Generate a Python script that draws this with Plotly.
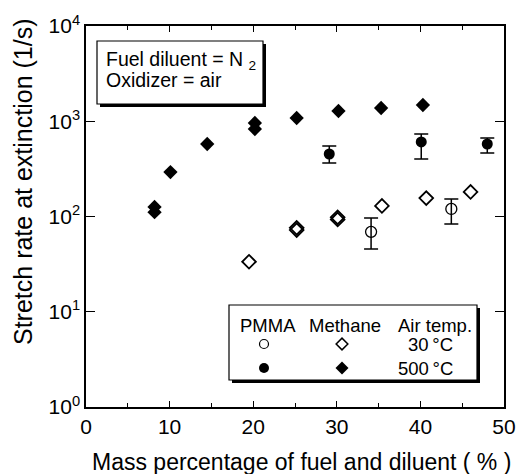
import plotly.graph_objects as go

# ---------------- data ----------------
methane_500_x = [8.2, 8.2, 10.1, 14.5, 20.2, 20.2, 25.2, 30.2, 35.3, 40.3]
methane_500_y = [126, 111, 293, 577, 959, 829, 1082, 1281, 1378, 1482]

methane_30_x = [19.5, 25.2, 25.2, 30.1, 30.1, 35.4, 40.7, 46.0]
methane_30_y = [33.5, 72, 76, 93, 98, 129, 156, 181]

pmma_500_x = [29.1, 40.1, 48.0]
pmma_500_y = [453, 606, 577]
pmma_500_hi = [550, 735, 667]
pmma_500_lo = [365, 402, 464]

pmma_30_x = [34.1, 43.7]
pmma_30_y = [69, 120]
pmma_30_hi = [96.5, 153]
pmma_30_lo = [45.6, 83.4]

x_ticks = [0, 10, 20, 30, 40, 50]
y_tickvals = [1, 10, 100, 1000, 10000]
y_ticktext = ["10<sup>0</sup>", "10<sup>1</sup>", "10<sup>2</sup>", "10<sup>3</sup>", "10<sup>4</sup>"]

FONT = "Liberation Sans, Arial, sans-serif"
# window is 532x474; the page body adds an 8px offset
OFF = 8
W, H = 532 - OFF, 474 - OFF
PL, PR, PT, PB = 86, 504, 26, 407          # plot area in window pixels
PW, PH = PR - PL, PB - PT


def px(x):
    return (x - PL) / PW


def py(y):
    return (PB - y) / PH


fig = go.Figure()

fig.add_trace(go.Scatter(
    x=methane_500_x, y=methane_500_y, mode="markers",
    marker=dict(symbol="diamond", size=11, color="black", line=dict(width=0)),
    showlegend=False))
fig.add_trace(go.Scatter(
    x=methane_30_x, y=methane_30_y, mode="markers",
    marker=dict(symbol="diamond-open", size=10.5, color="black", line=dict(width=1.8)),
    showlegend=False))
fig.add_trace(go.Scatter(
    x=pmma_500_x, y=pmma_500_y, mode="markers",
    marker=dict(symbol="circle", size=11, color="black"),
    error_y=dict(type="data", symmetric=False,
                 array=[h - v for h, v in zip(pmma_500_hi, pmma_500_y)],
                 arrayminus=[v - l for l, v in zip(pmma_500_lo, pmma_500_y)],
                 color="black", thickness=1.5, width=7),
    showlegend=False))
fig.add_trace(go.Scatter(
    x=pmma_30_x, y=pmma_30_y, mode="markers",
    marker=dict(symbol="circle-open", size=11, color="black", line=dict(width=1.3)),
    error_y=dict(type="data", symmetric=False,
                 array=[h - v for h, v in zip(pmma_30_hi, pmma_30_y)],
                 arrayminus=[v - l for l, v in zip(pmma_30_lo, pmma_30_y)],
                 color="black", thickness=1.5, width=7),
    showlegend=False))

# legend symbols on an overlay axis (0..1 == plot area)
fig.add_trace(go.Scatter(x=[px(264)], y=[py(344)], xaxis="x2", yaxis="y2", mode="markers",
                         marker=dict(symbol="circle-open", size=9, color="black", line=dict(width=1.2)),
                         showlegend=False, hoverinfo="skip"))
fig.add_trace(go.Scatter(x=[px(342)], y=[py(344)], xaxis="x2", yaxis="y2", mode="markers",
                         marker=dict(symbol="diamond-open", size=9, color="black", line=dict(width=1.5)),
                         showlegend=False, hoverinfo="skip"))
fig.add_trace(go.Scatter(x=[px(264)], y=[py(368)], xaxis="x2", yaxis="y2", mode="markers",
                         marker=dict(symbol="circle", size=10, color="black"),
                         showlegend=False, hoverinfo="skip"))
fig.add_trace(go.Scatter(x=[px(342)], y=[py(368)], xaxis="x2", yaxis="y2", mode="markers",
                         marker=dict(symbol="diamond", size=10, color="black", line=dict(width=0)),
                         showlegend=False, hoverinfo="skip"))

shapes = []


def shadow_box(x0, y0, x1, y1, off=3):
    shapes.append(dict(type="rect", xref="paper", yref="paper",
                       x0=px(x0 + off), x1=px(x1 + off), y0=py(y1 + off), y1=py(y0 + off),
                       fillcolor="black", line=dict(width=0), layer="below"))
    shapes.append(dict(type="rect", xref="paper", yref="paper",
                       x0=px(x0), x1=px(x1), y0=py(y1), y1=py(y0),
                       fillcolor="white", line=dict(color="black", width=1.2), layer="below"))


shadow_box(97, 41, 263, 104)
shadow_box(229, 305, 477, 380)

ann = []


def text(t, x, y, xa="left", size=18.5, **kw):
    ann.append(dict(text=t, x=px(x), y=py(y), xref="paper", yref="paper",
                    xanchor=xa, yanchor="middle", showarrow=False,
                    font=dict(family=FONT, size=size, color="black"), **kw))


text("Fuel diluent = N <sub>2</sub>", 104, 61, size=19.5)
text("Oxidizer = air", 104, 80, size=19.5)
text("PMMA", 238, 325)
text("Methane", 307, 325)
text("Air temp.", 396, 325)
text("30\u2009\u00b0C", 455, 344, xa="right")
text("500\u2009\u00b0C", 455, 368, xa="right")
# axis titles
text("Mass percentage of fuel and diluent ( % )", 301, 462, xa="center", size=23)
ann.append(dict(text="Stretch rate at extinction (1/s)", x=px(23), y=py(182),
                xref="paper", yref="paper", xanchor="center", yanchor="middle",
                textangle=-90, showarrow=False,
                font=dict(family=FONT, size=25, color="black")))

axis_common = dict(showline=True, linecolor="black", linewidth=1.5, mirror="ticks",
                   ticks="inside", tickcolor="black", showgrid=False, zeroline=False,
                   tickfont=dict(family=FONT, size=21, color="black"))

fig.update_layout(
    width=W, height=H,
    margin=dict(l=PL - OFF, r=532 - PR, t=PT - OFF, b=474 - PB, autoexpand=False),
    paper_bgcolor="white", plot_bgcolor="rgba(0,0,0,0)",
    font=dict(family=FONT, color="black"),
    xaxis=dict(range=[0, 50], tickvals=x_ticks, ticklen=6, tickwidth=1.2,
               minor=dict(dtick=5, ticks="inside", ticklen=4, tickcolor="black", tickwidth=1.2),
               **axis_common),
    yaxis=dict(type="log", range=[0, 4], tickvals=y_tickvals, ticktext=y_ticktext,
               ticklen=9, tickwidth=1.2, **axis_common),
    xaxis2=dict(overlaying="x", range=[0, 1], visible=False, fixedrange=True),
    yaxis2=dict(overlaying="y", range=[0, 1], visible=False, fixedrange=True),
    shapes=shapes, annotations=ann,
)

fig.write_html("out.html")
